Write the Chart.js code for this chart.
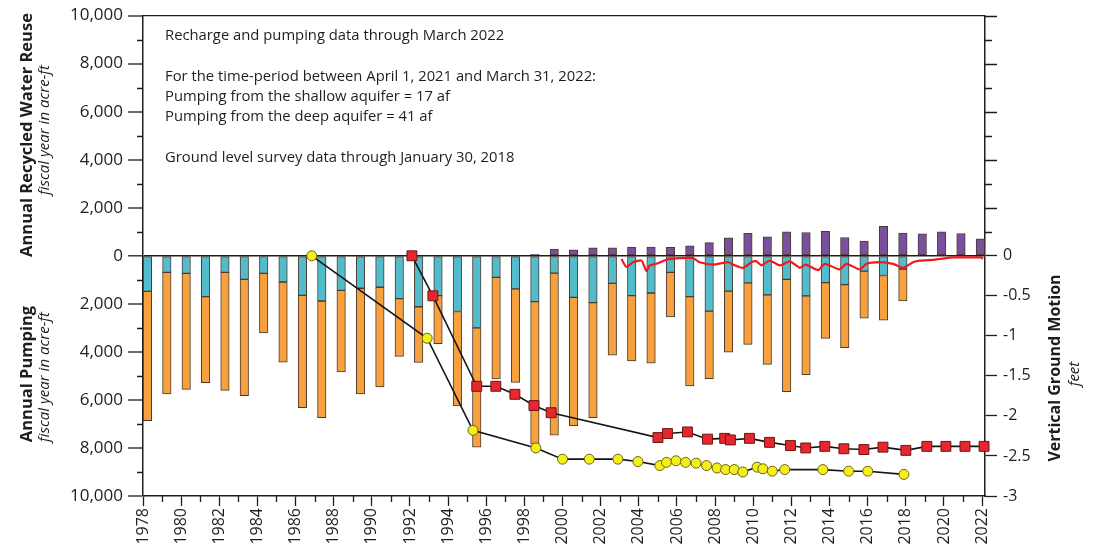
<!DOCTYPE html>
<html><head><meta charset="utf-8">
<script src="https://cdn.jsdelivr.net/npm/chart.js@4.4.1/dist/chart.umd.min.js"></script>
<style>html,body{margin:0;padding:0;background:#fff}#wrap{width:1103px;height:556px;position:relative}canvas{display:block}</style>
</head><body><div id="wrap"><canvas id="c" width="1103" height="556"></canvas></div>
<script>
// ---- data ----
const barYears = [1978,1979,1980,1981,1982,1983,1984,1985,1986,1987,1988,1989,1990,1991,1992,1993,1994,1995,1996,1997,1998,1999,2000,2001,2002,2003,2004,2005,2006,2007,2008,2009,2010,2011,2012,2013,2014,2015,2016,2017,2018,2019,2020,2021];
const recycledReuse = [0,0,0,0,0,0,0,0,0,0,0,0,0,0,0,0,0,0,0,0,60,280,250,330,330,360,360,350,410,550,750,940,790,1000,970,1020,760,610,1230,950,910,1000,930,710];
const pumpShallow = [1480,690,730,1700,690,980,730,1090,1650,1880,1440,1350,1310,1780,2120,1660,2320,3000,900,1380,1910,720,1730,1950,1150,1660,1550,690,1700,2300,1470,1130,1630,980,1670,1120,1200,640,820,550,0,0,0,17];
const pumpDeep = [5380,5060,4830,3580,4910,4840,2480,3340,4670,4860,3390,4400,4150,2410,2320,2000,3930,4970,4230,3890,5930,6750,5340,4790,2990,2720,2920,1850,3720,2820,2540,2560,2890,4680,3280,2320,2620,1960,1860,1330,0,0,0,41];

const squareYears = [1992.1,1993.2,1995.5,1996.5,1997.5,1998.5,1999.4,2005.0,2005.5,2006.55,2007.6,2008.5,2008.8,2009.8,2010.85,2011.95,2012.75,2013.75,2014.75,2015.8,2016.8,2018.0,2019.1,2020.1,2021.1,2022.1];
const squareMotion = [0,-0.50,-1.63,-1.63,-1.73,-1.87,-1.96,-2.27,-2.22,-2.20,-2.29,-2.28,-2.30,-2.28,-2.33,-2.37,-2.40,-2.38,-2.41,-2.42,-2.39,-2.43,-2.38,-2.38,-2.38,-2.38];
const circleYears = [1986.85,1992.9,1995.3,1998.6,2000.0,2001.4,2002.9,2003.95,2005.1,2005.45,2005.95,2006.45,2007.0,2007.55,2008.1,2008.55,2009.0,2009.45,2010.2,2010.5,2011.0,2011.65,2013.65,2015.0,2016.0,2017.9];
const circleMotion = [0,-1.03,-2.18,-2.40,-2.54,-2.54,-2.54,-2.57,-2.62,-2.58,-2.56,-2.58,-2.59,-2.62,-2.65,-2.67,-2.67,-2.70,-2.64,-2.66,-2.69,-2.67,-2.67,-2.69,-2.69,-2.73];
const gpsYears = [2003.09,2003.35,2003.69,2004.14,2004.40,2004.57,2004.92,2005.45,2006.14,2006.84,2007.19,2007.89,2008.68,2008.94,2009.46,2009.90,2010.17,2010.43,2010.86,2011.39,2011.91,2012.44,2012.75,2013.40,2013.75,2014.53,2014.89,2015.58,2015.93,2016.63,2017.33,2017.85,2018.38,2018.73,2019.43,2019.78,2020.48,2021.18,2021.96,2022.03];
const gpsMotion = [-0.04,-0.14,-0.08,-0.06,-0.19,-0.12,-0.10,-0.05,-0.03,-0.03,-0.08,-0.11,-0.08,-0.11,-0.15,-0.08,-0.07,-0.12,-0.06,-0.12,-0.07,-0.15,-0.11,-0.18,-0.10,-0.17,-0.10,-0.17,-0.10,-0.08,-0.10,-0.15,-0.08,-0.06,-0.05,-0.04,-0.02,-0.02,-0.02,-0.04];

const xTickLabels = [1978,1980,1982,1984,1986,1988,1990,1992,1994,1996,1998,2000,2002,2004,2006,2008,2010,2012,2014,2016,2018,2020,2022];
const leftTickLabels = [-10000,-8000,-6000,-4000,-2000,0,2000,4000,6000,8000,10000];
const rightTickLabels = [-3,-2.5,-2,-1.5,-1,-0.5,0];
const notes = [
  'Recharge and pumping data through March 2022',
  '',
  'For the time-period between April 1, 2021 and March 31, 2022:',
  'Pumping from the shallow aquifer = 17 af',
  'Pumping from the deep aquifer = 41 af',
  '',
  'Ground level survey data through January 30, 2018'
];

// ---- build ----
const FONT = "'Open Sans', 'DejaVu Sans', sans-serif";
const INK = '#1e1e1e';
const recycledData = barYears.map((yr,i)=>recycledReuse[i] ? {x: yr, y: [0, recycledReuse[i]]} : null).filter(Boolean);
const shallowData = barYears.map((yr,i)=>pumpShallow[i] ? {x: yr, y: [0, -pumpShallow[i]]} : null).filter(Boolean);
const deepData = barYears.map((yr,i)=>pumpDeep[i] ? {x: yr, y: [-pumpShallow[i], -pumpShallow[i]-pumpDeep[i]]} : null).filter(Boolean);
const pts = (xs, ys) => xs.map((x,i)=>({x, y: ys[i]}));

const barCommon = {type:'bar', xAxisID:'xb', yAxisID:'y', grouped:false, barThickness:8.5,
  borderWidth:1, borderColor:'#4a3a30', borderSkipped:false, order:5};

const decor = {
  id: 'decor',
  afterDraw(chart) {
    const {ctx, chartArea: a, scales} = chart;
    const x = scales.x, y = scales.y;
    ctx.save();
    ctx.strokeStyle = INK; ctx.lineWidth = 1.3;
    ctx.beginPath();
    // top border
    ctx.moveTo(a.left, a.top); ctx.lineTo(a.right, a.top);
    // minor x ticks (odd years)
    for (let yr = 1979; yr < 2022; yr += 2) {
      const px = Math.round(x.getPixelForValue(yr)) + 0.5;
      ctx.moveTo(px, a.bottom); ctx.lineTo(px, a.bottom + 6);
    }
    // minor left ticks (odd thousands)
    for (let v = -9000; v <= 9000; v += 2000) {
      const py = Math.round(y.getPixelForValue(v)) + 0.5;
      ctx.moveTo(a.left - 6, py); ctx.lineTo(a.left, py);
    }
    // right ticks above zero (follow left scale)
    for (let v = 1000; v <= 10000; v += 1000) {
      const py = Math.round(y.getPixelForValue(v)) + 0.5;
      const len = (v % 2000 === 0) ? 12 : 7;
      ctx.moveTo(a.right, py); ctx.lineTo(a.right + len, py);
    }
    ctx.stroke();

    // notes
    ctx.fillStyle = INK;
    ctx.font = `14.8px ${FONT}`;
    ctx.textBaseline = 'alphabetic';
    ctx.textAlign = 'left';
    const baselines = [40, 60, 81, 101, 121, 141, 162];
    notes.forEach((t, i) => { if (t) ctx.fillText(t, a.left + 22, baselines[i]); });

    // axis titles
    const rot = (txt, cx, cy, font) => {
      ctx.save(); ctx.translate(cx, cy); ctx.rotate(-Math.PI/2);
      ctx.font = font; ctx.textAlign = 'center'; ctx.textBaseline = 'middle';
      ctx.fillText(txt, 0, 0); ctx.restore();
    };
    const bold = `bold 16.5px ${FONT}`, ital = `italic 15px ${FONT}`;
    rot('Annual Recycled Water Reuse', 27, 135, bold);
    rot('fiscal year in acre-ft', 45, 130, ital);
    rot('Annual Pumping', 27, 374, bold);
    rot('fiscal year in acre-ft', 45, 377, ital);
    rot('Vertical Ground Motion', 1055, 368, `bold 16px ${FONT}`);
    rot('feet', 1075, 374, ital);
    ctx.restore();
  }
};

new Chart(document.getElementById('c'), {
  type: 'line',
  data: {
    datasets: [
      {...barCommon, label:'Recycled water reuse', data: recycledData, backgroundColor:'#7a4f9c'},
      {...barCommon, label:'Shallow aquifer pumping', data: shallowData, backgroundColor:'#52bccb'},
      {...barCommon, label:'Deep aquifer pumping', data: deepData, backgroundColor:'#f6a13e'},
      {type:'line', label:'Continuous ground motion', xAxisID:'x', yAxisID:'y2', data: pts(gpsYears, gpsMotion),
        borderColor:'#f0191e', borderWidth:2.2, pointRadius:0, tension:0.2, clip:false, order:3},
      {type:'line', label:'Survey benchmark A', xAxisID:'x', yAxisID:'y2', data: pts(squareYears, squareMotion),
        borderColor:'#151515', borderWidth:1.6, pointStyle:'rect', pointRadius:7, pointBackgroundColor:'#e8262d',
        pointBorderColor:'#6e1414', pointBorderWidth:1, tension:0, clip:false, order:2},
      {type:'line', label:'Survey benchmark B', xAxisID:'x', yAxisID:'y2', data: pts(circleYears, circleMotion),
        borderColor:'#151515', borderWidth:1.6, pointStyle:'circle', pointRadius:5, pointBackgroundColor:'#f4ee1a',
        pointBorderColor:'#6b6510', pointBorderWidth:1, tension:0, clip:false, order:1}
    ]
  },
  options: {
    responsive:false, animation:false, devicePixelRatio:1,
    layout:{padding:{top:14, left:0, right:0, bottom:0}},
    plugins:{legend:{display:false}, tooltip:{enabled:false}},
    scales: {
      x: {type:'linear', position:'bottom', min:1978, max:2022.15, offset:false,
        afterBuildTicks: s => { s.ticks = xTickLabels.map(v => ({value: v})); },
        afterFit: s => { s.height = 60; },
        ticks:{autoSkip:false, minRotation:90, maxRotation:90, padding:2, color:INK,
          font:{family:FONT, size:16}, callback: v => String(v)},
        grid:{drawOnChartArea:false, offset:false, tickLength:10, tickColor:INK, tickWidth:1.3},
        border:{display:true, color:INK, width:1.5}},
      xb: {type:'linear', display:false, min:1977.77, max:2021.24, offset:false, grid:{offset:false}},
      y: {type:'linear', position:'left', min:-10000, max:10000,
        afterBuildTicks: s => { s.ticks = leftTickLabels.map(v => ({value: v})); },
        afterFit: s => { s.width = 143; },
        ticks:{color:INK, padding:5, font:{family:FONT, size:17},
          callback: v => Math.abs(v).toLocaleString('en-US')},
        grid:{drawOnChartArea:true, tickLength:15, tickColor:INK, tickWidth:1.3,
          color: c => (c.tick && c.tick.value === 0) ? INK : 'rgba(0,0,0,0)',
          lineWidth: c => (c.tick && c.tick.value === 0) ? 1.6 : 0},
        border:{display:true, color:INK, width:1.5}},
      y2: {type:'linear', position:'right', min:-3, max:3,
        afterBuildTicks: s => { s.ticks = rightTickLabels.map(v => ({value: v})); },
        afterFit: s => { s.width = 118; },
        ticks:{color:INK, padding:6, font:{family:FONT, size:16}, callback: v => String(v)},
        grid:{drawOnChartArea:false, tickLength:12, tickColor:INK, tickWidth:1.3},
        border:{display:true, color:INK, width:1.5}}
    }
  },
  plugins:[decor]
});
</script>
</body></html>
